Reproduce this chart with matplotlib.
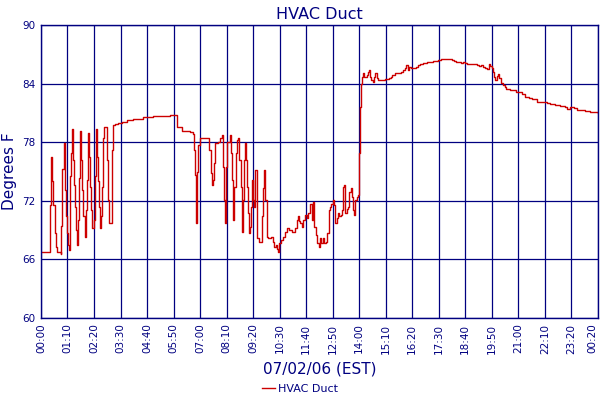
import numpy as np
import matplotlib
matplotlib.use('Agg')
import matplotlib.pyplot as plt
import matplotlib.transforms as mtransforms

# Duct temperature (minutes after 00:00 on 07/02/06, deg F)
minutes = [0, 13, 24, 25, 27, 29, 32, 36, 39, 43, 52, 54, 56, 60, 63, 64, 66, 69, 71, 74,
           77, 80, 82, 84, 87, 89, 92, 95, 98, 101, 104, 106, 109, 112, 115, 118, 121, 124, 127, 129,
           133, 136, 140, 143, 146, 149, 151, 154, 157, 159, 162, 164, 167, 172, 174, 177, 180, 183, 187, 191,
           195, 203, 214, 227, 243, 269, 296, 319, 340, 354, 359, 372, 393, 401, 404, 407, 409, 412, 414, 420,
           441, 444, 449, 451, 454, 457, 459, 467, 473, 478, 480, 483, 485, 488, 490, 499, 502, 504, 508, 510,
           514, 517, 519, 523, 527, 531, 533, 535, 538, 540, 543, 546, 548, 552, 554, 556, 560, 563, 566, 569,
           571, 575, 580, 583, 587, 590, 592, 596, 600, 606, 612, 616, 620, 624, 626, 629, 633, 638, 644, 650,
           656, 664, 671, 675, 678, 680, 684, 688, 692, 697, 701, 706, 710, 715, 717, 721, 725, 730, 733, 737,
           740, 744, 747, 752, 756, 760, 763, 766, 770, 774, 777, 781, 784, 787, 791, 795, 798, 801, 803, 807,
           810, 814, 818, 821, 824, 827, 830, 833, 837, 840, 842, 845, 847, 849, 853, 860, 864, 867, 869, 872,
           876, 879, 882, 886, 890, 902, 908, 918, 923, 928, 935, 943, 950, 956, 962, 965, 968, 972, 976, 983,
           990, 996, 1001, 1008, 1014, 1020, 1027, 1036, 1043, 1049, 1056, 1064, 1071, 1077, 1084, 1090, 1096, 1102, 1108, 1115,
           1120, 1125, 1150, 1157, 1163, 1168, 1173, 1177, 1182, 1185, 1191, 1194, 1197, 1199, 1203, 1206, 1210, 1214, 1219, 1224,
           1229, 1238, 1247, 1254, 1269, 1278, 1289, 1296, 1309, 1322, 1335, 1344, 1357, 1370, 1383, 1389, 1397, 1408, 1414, 1423,
           1436, 1449, 1467, 1470]
temps = [66.8, 66.8, 66.8, 71.6, 76.5, 74.0, 71.6, 68.7, 67.3, 66.8, 66.6, 69.4, 75.3, 77.9, 75.5, 73.1, 70.4, 68.7, 67.5, 67.0,
         74.5, 76.9, 79.4, 76.2, 73.6, 71.4, 69.0, 67.5, 70.0, 74.3, 79.1, 76.2, 73.1, 70.4, 68.3, 71.1, 74.1, 78.9, 76.5, 73.4,
         71.1, 69.2, 70.0, 74.5, 79.4, 76.5, 74.0, 71.4, 69.2, 70.4, 73.4, 78.4, 79.6, 79.6, 76.2, 72.1, 69.7, 69.7, 77.2, 79.8,
         79.9, 80.0, 80.1, 80.3, 80.4, 80.55, 80.7, 80.65, 80.75, 80.8, 79.6, 79.15, 79.0, 78.8, 77.2, 74.6, 69.7, 74.9, 77.7, 78.4,
         78.4, 77.2, 74.8, 73.6, 74.1, 75.9, 77.9, 78.05, 78.4, 78.7, 75.5, 72.1, 69.7, 75.5, 78.05, 78.7, 76.9, 74.1, 70.0, 73.4,
         76.9, 78.2, 78.4, 76.2, 73.4, 68.8, 72.1, 76.2, 77.9, 76.2, 73.4, 70.7, 68.7, 69.35, 71.4, 74.1, 72.1, 71.4, 75.2, 70.0,
         68.2, 67.8, 67.8, 70.4, 73.3, 75.2, 72.1, 68.3, 68.2, 68.3, 67.8, 67.3, 67.5, 67.1, 66.8, 67.65, 68.0, 68.3, 68.8, 69.2,
         69.0, 68.8, 69.2, 70.0, 70.4, 69.9, 69.7, 69.35, 70.0, 70.5, 70.2, 70.7, 71.7, 70.0, 71.9, 69.35, 68.5, 67.65, 67.3, 68.2,
         67.65, 68.2, 67.65, 67.8, 68.7, 71.1, 71.4, 71.7, 72.1, 71.6, 69.7, 70.2, 70.7, 70.4, 70.5, 71.1, 73.4, 73.6, 70.7, 71.2,
         71.4, 72.9, 73.3, 72.4, 71.1, 70.5, 72.1, 72.4, 72.6, 76.9, 81.6, 84.0, 84.7, 85.05, 84.65, 84.9, 85.2, 85.4, 84.7, 84.4,
         84.2, 84.7, 85.05, 84.55, 84.4, 84.4, 84.45, 84.55, 84.65, 84.9, 85.05, 85.05, 85.2, 85.4, 85.55, 85.9, 85.4, 85.7, 85.55, 85.55,
         85.7, 85.9, 86.0, 86.1, 86.15, 86.2, 86.25, 86.3, 86.35, 86.4, 86.5, 86.5, 86.5, 86.5, 86.4, 86.35, 86.2, 86.25, 86.1, 86.25,
         86.1, 86.0, 85.9, 85.8, 85.9, 85.7, 85.55, 85.5, 86.0, 85.8, 85.55, 85.2, 84.7, 84.4, 84.8, 84.95, 84.55, 84.1, 83.9, 83.7,
         83.4, 83.35, 83.3, 83.1, 82.9, 82.65, 82.55, 82.4, 82.15, 82.1, 82.05, 81.9, 81.8, 81.7, 81.65, 81.4, 81.6, 81.55, 81.3, 81.3,
         81.2, 81.1, 81.05, 81.0]

tick_minutes = list(range(0, 1471, 70))
tick_labels = ['00:00', '01:10', '02:20', '03:30', '04:40', '05:50', '07:00', '08:10', '09:20', '10:30', '11:40',
               '12:50', '14:00', '15:10', '16:20', '17:30', '18:40', '19:50', '21:00', '22:10', '23:20', '00:20']
y_ticks = [60, 66, 72, 78, 84, 90]

navy = '#000080'

fig = plt.figure(figsize=(6, 4), dpi=100)
ax = fig.add_axes([0.0683, 0.205, 0.928, 0.7325])

ax.plot(minutes, temps, color='#cc0000', linewidth=1, drawstyle='steps-post', label='HVAC Duct')

ax.set_xlim(0, 1470)
ax.set_ylim(60, 90)
ax.set_xticks(tick_minutes)
ax.set_xticklabels(tick_labels, rotation=90)
ax.set_yticks(y_ticks)
ax.grid(True, color=navy, linewidth=0.9)
ax.set_axisbelow(True)
ax.tick_params(axis='both', length=0, labelsize=7.5, labelcolor=navy, pad=4)
for s in ax.spines.values():
    s.set_color(navy)
    s.set_linewidth(1)

# last label sits a little left of its tick so it stays inside the figure
last = ax.get_xticklabels()[-1]
last.set_transform(last.get_transform() + mtransforms.ScaledTranslation(-4 / 72, 0, fig.dpi_scale_trans))

ax.set_title('HVAC Duct', color=navy, fontsize=11.5, pad=4)
ax.set_ylabel('Degrees F', color=navy, fontsize=11, labelpad=4)
ax.set_xlabel('07/02/06 (EST)', color=navy, fontsize=11, labelpad=6)

leg = fig.legend(loc='lower center', bbox_to_anchor=(0.5, -0.01), frameon=False, fontsize=8,
                 handlelength=1.2, handletextpad=0.3)
for t in leg.get_texts():
    t.set_color(navy)

fig.savefig('out.png', dpi=100)
